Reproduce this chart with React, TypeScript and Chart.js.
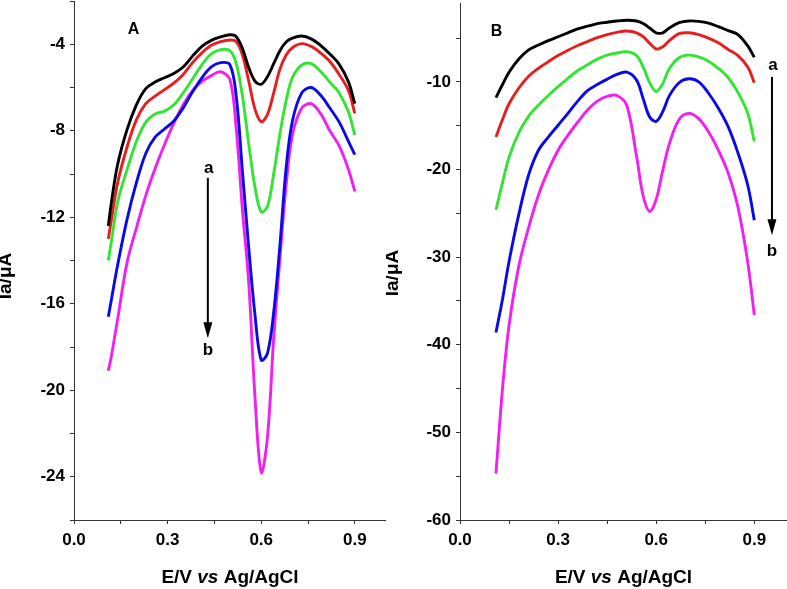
import React, { useEffect, useRef } from 'react';
import { Chart, registerables } from 'chart.js';

Chart.register(...registerables);

// ---------- Panel A data ----------
const A_E = [0.11, 0.12, 0.14, 0.17, 0.2, 0.23, 0.26, 0.29, 0.32, 0.35, 0.38, 0.41, 0.44, 0.47, 0.5, 0.52, 0.54, 0.56, 0.58, 0.6, 0.62, 0.64, 0.66, 0.68, 0.7, 0.73, 0.76, 0.79, 0.82, 0.85, 0.88, 0.9];
const A_BLACK = [-12.4, -11.3, -9.55, -7.95, -6.8, -6.05, -5.75, -5.55, -5.35, -5.05, -4.55, -4.1, -3.82, -3.66, -3.56, -3.65, -4.2, -5.08, -5.7, -5.85, -5.5, -4.9, -4.3, -3.9, -3.72, -3.62, -3.75, -4.05, -4.45, -4.93, -5.75, -6.75];
const A_RED = [-13.0, -12.1, -10.4, -8.75, -7.5, -6.75, -6.4, -6.1, -5.8, -5.4, -4.85, -4.4, -4.05, -3.88, -3.8, -3.88, -4.5, -5.7, -7.0, -7.58, -7.25, -6.25, -5.15, -4.5, -4.16, -3.97, -4.1, -4.4, -4.8, -5.4, -6.15, -7.2];
const A_GREEN = [-14.0, -13.1, -11.3, -9.8, -8.5, -7.6, -7.22, -7.1, -6.8, -6.25, -5.6, -4.95, -4.45, -4.25, -4.3, -4.9, -6.4, -8.6, -10.6, -11.75, -11.5, -10.0, -8.15, -6.6, -5.55, -4.96, -4.9, -5.25, -5.75, -6.25, -7.15, -8.2];
const A_BLUE = [-16.6, -15.8, -14.2, -12.1, -10.4, -9.05, -8.3, -7.92, -7.55, -6.95, -6.2, -5.55, -5.05, -4.85, -4.95, -6.4, -9.9, -13.4, -16.5, -18.6, -18.3, -16.4, -13.3, -9.7, -7.55, -6.25, -6.0, -6.35, -6.95, -7.6, -8.5, -9.1];
const A_MAGENTA = [-19.1, -18.4, -16.7, -14.1, -12.5, -11.0, -9.75, -8.65, -7.65, -6.8, -6.15, -5.72, -5.45, -5.27, -5.65, -7.9, -11.7, -15.0, -20.3, -23.8, -22.2, -17.6, -13.9, -10.5, -8.2, -6.95, -6.75, -7.2, -8.0, -8.7, -9.8, -10.8];

// ---------- Panel B data ----------
const B_E = [0.11, 0.13, 0.15, 0.18, 0.21, 0.24, 0.27, 0.3, 0.33, 0.36, 0.39, 0.42, 0.45, 0.48, 0.51, 0.54, 0.56, 0.58, 0.6, 0.62, 0.64, 0.67, 0.7, 0.73, 0.76, 0.79, 0.82, 0.85, 0.88, 0.9];
const B_BLACK = [-11.8, -10.3, -8.9, -7.4, -6.35, -5.8, -5.3, -4.85, -4.4, -3.95, -3.65, -3.35, -3.2, -3.05, -2.97, -3.05, -3.35, -3.85, -4.4, -4.4, -3.85, -3.25, -3.05, -3.1, -3.3, -3.7, -4.15, -4.6, -5.9, -7.2];
const B_RED = [-16.3, -14.3, -12.5, -10.7, -9.35, -8.45, -7.7, -7.0, -6.4, -5.85, -5.4, -4.95, -4.6, -4.35, -4.2, -4.4, -4.85, -5.6, -6.25, -6.0, -5.3, -4.5, -4.4, -4.6, -5.0, -5.55, -6.3, -7.0, -8.3, -10.1];
const B_GREEN = [-24.6, -21.5, -18.6, -15.8, -13.9, -12.65, -11.55, -10.55, -9.6, -8.7, -8.05, -7.4, -6.95, -6.7, -6.57, -7.0, -8.3, -10.1, -11.1, -10.2, -8.5, -7.25, -6.95, -7.15, -7.65, -8.45, -9.5, -11.2, -13.6, -16.8];
const B_BLUE = [-38.6, -34.8, -30.5, -25.1, -20.6, -17.8, -16.3, -14.95, -13.6, -12.2, -11.0, -10.3, -9.7, -9.15, -8.9, -9.8, -11.9, -14.0, -14.5, -13.4, -11.6, -10.1, -9.65, -10.0, -11.3, -13.0, -15.1, -18.1, -21.8, -25.8];
const B_MAGENTA = [-54.7, -45.0, -37.8, -31.0, -26.6, -22.9, -20.1, -17.8, -16.1, -14.6, -13.2, -12.2, -11.65, -11.55, -12.7, -18.5, -23.0, -24.8, -23.4, -20.1, -17.1, -14.3, -13.6, -14.2, -15.7, -17.8, -20.4, -24.3, -30.6, -36.6];

// ---------- ticks ----------
const X_TICKS = [0, 0.15, 0.3, 0.45, 0.6, 0.75, 0.9];
const X_LABELED = [0, 0.3, 0.6, 0.9];
const A_Y_TICKS = [-26, -24, -22, -20, -18, -16, -14, -12, -10, -8, -6, -4, -2];
const A_Y_LABELED = [-24, -20, -16, -12, -8, -4];
const B_Y_TICKS = [-60, -55, -50, -45, -40, -35, -30, -25, -20, -15, -10, -5];
const B_Y_LABELED = [-60, -50, -40, -30, -20, -10];

const COLORS = ['#000000', '#e61e1e', '#33e433', '#0a0ae6', '#f020f0'];
const FONT = 'Arial, "Liberation Sans", Helvetica, sans-serif';

const X_TITLE_PARTS: [string, boolean][] = [['E/V ', false], ['vs', true], [' Ag/AgCl', false]];
const Y_TITLE = 'Ia/\u03bcA';

type Annot = { tag: string; tagX: number; tagY: number; arrowX: number; arrowTop: number; arrowTip: number; aY: number; bY: number };
const ANNOT_A: Annot = { tag: 'A', tagX: 0.191, tagY: -3.32, arrowX: 0.429, arrowTop: -10.18, arrowTip: -17.6, aY: -9.76, bY: -18.15 };
const ANNOT_B: Annot = { tag: 'B', tagX: 0.112, tagY: -4.29, arrowX: 0.954, arrowTop: -9.43, arrowTip: -27.5, aY: -8.1, bY: -29.3 };

type PanelCfg = {
  xs: number[];
  series: number[][];
  yMin: number;
  yMax: number;
  yTicks: number[];
  yLabeled: number[];
  yWidth: number;
  padTop: number;
  padRight: number;
  yTitleX: number;
  yTitleY: number;
  annot: Annot;
};

const PANEL_A: PanelCfg = {
  xs: A_E,
  series: [A_BLACK, A_RED, A_GREEN, A_BLUE, A_MAGENTA],
  yMin: -26, yMax: -2,
  yTicks: A_Y_TICKS, yLabeled: A_Y_LABELED,
  yWidth: 74, padTop: 1, padRight: 0,
  yTitleX: 6, yTitleY: 276,
  annot: ANNOT_A,
};

const PANEL_B: PanelCfg = {
  xs: B_E,
  series: [B_BLACK, B_RED, B_GREEN, B_BLUE, B_MAGENTA],
  yMin: -60, yMax: -1,
  yTicks: B_Y_TICKS, yLabeled: B_Y_LABELED,
  yWidth: 74, padTop: 3, padRight: 0,
  yTitleX: 7, yTitleY: 273,
  annot: ANNOT_B,
};

function makeChart(canvas: HTMLCanvasElement, cfg: PanelCfg) {
  const decor = {
    id: 'decor',
    afterDraw(chart: any) {
      const ctx = chart.ctx as CanvasRenderingContext2D;
      const xs = chart.scales.x;
      const ys = chart.scales.y;
      const area = chart.chartArea;
      ctx.save();
      ctx.fillStyle = '#000';
      ctx.strokeStyle = '#000';
      // x title with italic "vs"
      const size = 19;
      let total = 0;
      for (const [t, it] of X_TITLE_PARTS) {
        ctx.font = `${it ? 'italic ' : ''}bold ${size}px ${FONT}`;
        total += ctx.measureText(t).width;
      }
      let cx = (area.left + area.right) / 2 - total / 2;
      ctx.textBaseline = 'alphabetic';
      ctx.textAlign = 'left';
      for (const [t, it] of X_TITLE_PARTS) {
        ctx.font = `${it ? 'italic ' : ''}bold ${size}px ${FONT}`;
        ctx.fillText(t, cx, area.bottom + 63);
        cx += ctx.measureText(t).width;
      }
      // y title
      ctx.save();
      ctx.translate(cfg.yTitleX, cfg.yTitleY);
      ctx.rotate(-Math.PI / 2);
      ctx.font = `bold ${size}px ${FONT}`;
      ctx.textAlign = 'center';
      ctx.textBaseline = 'middle';
      ctx.fillText(Y_TITLE, 0, 0);
      ctx.restore();
      // panel tag
      const an = cfg.annot;
      ctx.font = `bold 16px ${FONT}`;
      ctx.textAlign = 'center';
      ctx.textBaseline = 'middle';
      ctx.fillText(an.tag, xs.getPixelForValue(an.tagX), ys.getPixelForValue(an.tagY));
      // arrow
      const ax = xs.getPixelForValue(an.arrowX);
      const top = ys.getPixelForValue(an.arrowTop);
      const tip = ys.getPixelForValue(an.arrowTip);
      ctx.lineWidth = 2;
      ctx.beginPath();
      ctx.moveTo(ax, top);
      ctx.lineTo(ax, tip - 12);
      ctx.stroke();
      ctx.beginPath();
      ctx.moveTo(ax - 4.5, tip - 16);
      ctx.lineTo(ax + 4.5, tip - 16);
      ctx.lineTo(ax, tip);
      ctx.closePath();
      ctx.fill();
      ctx.font = `bold 17px ${FONT}`;
      ctx.fillText('a', ax + 1, ys.getPixelForValue(an.aY));
      ctx.fillText('b', ax, ys.getPixelForValue(an.bY));
      ctx.restore();
    },
  };

  return new Chart(canvas, {
    type: 'line',
    data: {
      datasets: cfg.series.map((s, i) => ({
        data: cfg.xs.map((x, j) => ({ x, y: s[j] })),
        borderColor: COLORS[i],
        borderWidth: 2.9,
        pointRadius: 0,
        fill: false,
        tension: 0.35,
      })),
    },
    options: {
      responsive: false,
      animation: false,
      devicePixelRatio: 1,
      layout: { padding: { left: 0, top: cfg.padTop, right: cfg.padRight, bottom: 0 } },
      plugins: { legend: { display: false }, tooltip: { enabled: false } },
      scales: {
        x: {
          type: 'linear',
          min: 0,
          max: 1.0,
          afterBuildTicks: (sc: any) => { sc.ticks = X_TICKS.map((v) => ({ value: v })); },
          afterFit: (sc: any) => { sc.height = 69; sc.paddingLeft = 0; sc.paddingRight = 0; },
          border: { display: true, color: '#333', width: 1 },
          grid: { display: true, drawOnChartArea: false, drawTicks: true, tickLength: 4, color: '#333' },
          ticks: {
            padding: 6,
            maxRotation: 0,
            autoSkip: false,
            color: '#000',
            font: { family: FONT, size: 17, weight: 'bold' },
            callback: (v: any) => (X_LABELED.some((l) => Math.abs(l - Number(v)) < 1e-6) ? Number(v).toFixed(1) : ''),
          },
        },
        y: {
          type: 'linear',
          min: cfg.yMin,
          max: cfg.yMax,
          afterBuildTicks: (sc: any) => { sc.ticks = cfg.yTicks.map((v) => ({ value: v })); },
          afterFit: (sc: any) => { sc.width = cfg.yWidth; sc.paddingTop = 0; sc.paddingBottom = 0; },
          border: { display: true, color: '#333', width: 1 },
          grid: { display: true, drawOnChartArea: false, drawTicks: true, tickLength: 4, color: '#333' },
          ticks: {
            padding: 5,
            autoSkip: false,
            color: '#000',
            font: { family: FONT, size: 17, weight: 'bold' },
            callback: (v: any) => (cfg.yLabeled.includes(Number(v)) ? String(v) : ''),
          },
        },
      },
    },
    plugins: [decor],
  } as any);
}

function Panel({ left, width, cfg }: { left: number; width: number; cfg: PanelCfg }) {
  const ref = useRef<HTMLCanvasElement>(null);
  useEffect(() => {
    if (!ref.current) return;
    const chart = makeChart(ref.current, cfg);
    return () => chart.destroy();
  }, [cfg]);
  return (
    <canvas
      ref={ref}
      width={width}
      height={589}
      style={{ position: 'absolute', left, top: 0, width, height: 589, display: 'block' }}
    />
  );
}

export default function App() {
  return (
    <div style={{ position: 'absolute', left: 0, top: 0, width: 787, height: 589, background: '#fff', overflow: 'hidden' }}>
      <Panel left={0} width={386} cfg={PANEL_A} />
      <Panel left={386} width={401} cfg={PANEL_B} />
    </div>
  );
}
